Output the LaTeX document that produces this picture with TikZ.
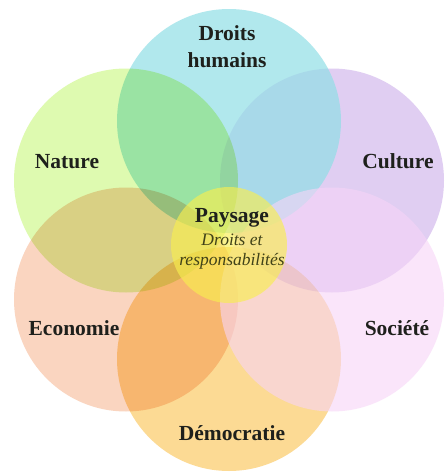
\documentclass[tikz,border=0pt]{standalone}
\usepackage{fontspec}
\setmainfont{Liberation Serif}
\definecolor{cDroits}{RGB}{145,223,230}
\definecolor{cNature}{RGB}{222,250,176}
\definecolor{cCulture}{RGB}{224,206,242}
\definecolor{cSociete}{RGB}{247,212,247}
\definecolor{cDemo}{RGB}{252,218,148}
\definecolor{cEco}{RGB}{250,213,192}
\definecolor{cCentre}{RGB}{248,238,80}
\definecolor{tDark}{RGB}{30,32,28}
\tikzset{
  petal/.style={circle, minimum size=224pt, inner sep=0pt, draw=none},
  centre/.style={circle, minimum size=116pt, inner sep=0pt, draw=none},
  lab/.style={font=\fontsize{21.5}{24}\selectfont\bfseries, text=tDark, anchor=base, inner sep=0pt},
  sublab/.style={font=\fontsize{17.5}{20}\selectfont\itshape, text=tDark!85!yellow, anchor=base, inner sep=0pt}
}
\begin{document}
\begin{tikzpicture}[x=1pt,y=-1pt]
\useasboundingbox (0,0) rectangle (445,472);
\fill[white] (0,0) rectangle (445,472);
\node[petal, fill=cCulture] (pC) at (332,180.5) {};
\node[petal, fill=cDroits, fill opacity=0.7] (pD) at (229,121) {};
\begin{scope}[blend mode=multiply]
\node[petal, fill=cDemo]    (pM) at (229,359) {};
\node[petal, fill=cEco]     (pE) at (126,299.5) {};
\node[petal, fill=cNature]  (pN) at (126,180.5) {};
\end{scope}
\node[petal, fill=cSociete, fill opacity=0.6] (pS) at (332,299.5) {};
\node[centre, fill=cCentre, fill opacity=0.65] (pP) at (229,245) {};
\node[lab] (tD1) at (227,40) {Droits};
\node[lab] (tD2) at (227,67) {humains};
\node[lab] (tN) at (67,168) {Nature};
\node[lab] (tC) at (398,168) {Culture};
\node[lab] (tE) at (74,335) {Economie};
\node[lab] (tS) at (397,335) {Société};
\node[lab] (tM) at (232,440) {Démocratie};
\node[lab] (tP) at (232,222) {Paysage};
\node[sublab] (tP2) at (232,245) {Droits et};
\node[sublab] (tP3) at (232,265) {responsabilités};
\end{tikzpicture}
\end{document}
